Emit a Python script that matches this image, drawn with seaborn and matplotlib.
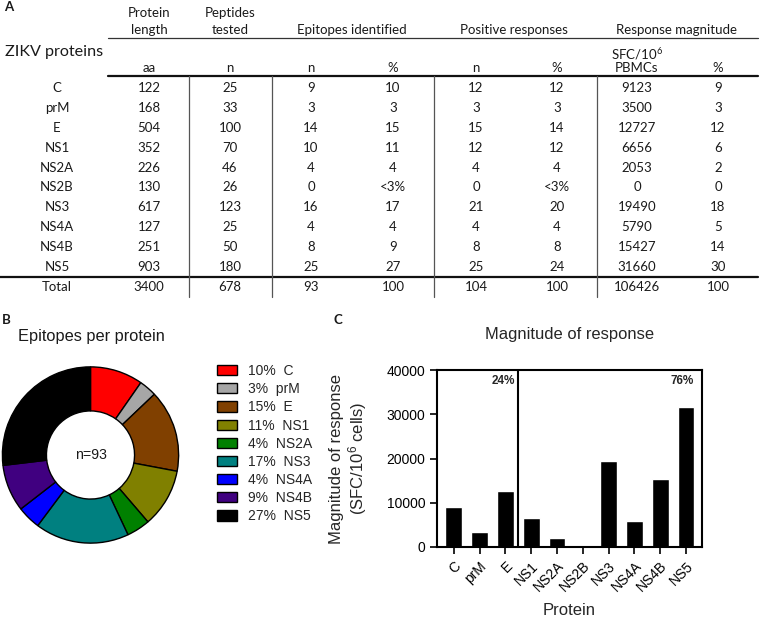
import matplotlib
matplotlib.use("Agg")
import matplotlib.pyplot as plt
import seaborn as sns
import pandas as pd

# ---------------- data ----------------
proteins = ["C", "prM", "E", "NS1", "NS2A", "NS2B", "NS3", "NS4A", "NS4B", "NS5"]
length_aa = [122, 168, 504, 352, 226, 130, 617, 127, 251, 903]
peptides_n = [25, 33, 100, 70, 46, 26, 123, 25, 50, 180]
epitopes_n = [9, 3, 14, 10, 4, 0, 16, 4, 8, 25]
epitopes_pct = ["10", "3", "15", "11", "4", "<3%", "17", "4", "9", "27"]
responses_n = [12, 3, 15, 12, 4, 0, 21, 4, 8, 25]
responses_pct = ["12", "3", "14", "12", "4", "<3%", "20", "4", "8", "24"]
magnitude = [9123, 3500, 12727, 6656, 2053, 0, 19490, 5790, 15427, 31660]
magnitude_pct = [9, 3, 12, 6, 2, 0, 18, 5, 14, 30]
pie_colors = ["#FF0000", "#A6A6A6", "#804000", "#808000", "#008000",
              "#00BFFF", "#008080", "#0000FF", "#400080", "#000000"]
pie_colors[5] = "#FFFFFF"  # NS2B has no epitopes (not drawn)

# ---------------- style ----------------
sns.set_style("white")
plt.rcParams['font.family'] = ['Liberation Sans', 'DejaVu Sans']
plt.rcParams['mathtext.default'] = 'regular'
TF = ['Lato', 'DejaVu Sans']
TC = '#1a1a1a'

W, H = 760, 619
fig = plt.figure(figsize=(7.6, 6.19), dpi=100)
def fx(x): return x / W
def fy(y): return 1 - y / H

# ---------------- panel A: table ----------------
ax_t = fig.add_axes([0, 0, 1, 1])
ax_t.set_xlim(0, W); ax_t.set_ylim(H, 0); ax_t.axis('off')

fs = 9.5
cols_x = [57, 149, 230, 311, 393, 476, 557, 637, 718]
def t(x, y, s, **kw):
    kw.setdefault('fontsize', fs)
    kw.setdefault('ha', 'center')
    ax_t.text(x, y, s, va='center', family=TF, color=TC, **kw)

t(4, 7, 'A', fontweight='bold', ha='left')
t(149, 13, 'Protein'); t(149, 30, 'length')
t(230, 13, 'Peptides'); t(230, 30, 'tested')
t(352, 30, 'Epitopes identified')
t(514, 30, 'Positive responses')
t(677, 30, 'Response magnitude')
t(5, 52, 'ZIKV proteins', ha='left', fontsize=11.6)
t(637, 54, 'SFC/10$^6$')
for x, s in zip(cols_x[1:], ['aa', 'n', 'n', '%', 'n', '%', 'PBMCs', '%']):
    t(x, 68, s)

y0, dy = 87.7, 19.95
for i, p in enumerate(proteins):
    y = y0 + i * dy
    row = [p, length_aa[i], peptides_n[i], epitopes_n[i], epitopes_pct[i],
           responses_n[i], responses_pct[i], magnitude[i], magnitude_pct[i]]
    for x, v in zip(cols_x, row):
        t(x, y, str(v))
totals = ['Total', sum(length_aa), sum(peptides_n), sum(epitopes_n), 100,
          sum(responses_n), 100, sum(magnitude), 100]
for x, v in zip(cols_x, totals):
    t(x, 287.3, str(v))

ax_t.plot([108, 758], [38, 38], color='#333333', lw=0.9)
ax_t.plot([108, 758], [76, 76], color='#111111', lw=1.6)
ax_t.plot([0, 758], [277, 277], color='#111111', lw=1.6)
for vx in [189, 272, 434, 597]:
    ax_t.plot([vx, vx], [76, 297], color='#555555', lw=0.9)

t(2, 320, 'B', fontweight='bold', ha='left')
t(333, 320, 'C', fontweight='bold', ha='left')

# ---------------- panel B: donut ----------------
ax_t.text(18, 336, 'Epitopes per protein', fontsize=11.8, va='center', ha='left', color=TC)
keep = [i for i, v in enumerate(epitopes_n) if v > 0]
vals = [epitopes_n[i] for i in keep]
cols = [pie_colors[i] for i in keep]
labels = [f"{epitopes_pct[i]}%  {proteins[i]}" for i in keep]

ax_p = fig.add_axes([fx(1.5), fy(455 + 89), 178 / W, 178 / H])
wedges, _ = ax_p.pie(vals, colors=cols, startangle=90, counterclock=False, radius=1,
                     wedgeprops=dict(width=0.5, edgecolor='black', linewidth=1.0))
ax_p.set_xlim(-1.01, 1.01); ax_p.set_ylim(-1.01, 1.01)
ax_p.text(0, 0, f"n={sum(epitopes_n)}", ha='center', va='center', fontsize=10.2, color=TC)
ax_p.legend(wedges, labels, loc='upper left', bbox_to_anchor=(fx(217), fy(364)),
            bbox_transform=fig.transFigure, frameon=False, fontsize=10,
            handlelength=1.45, handleheight=0.75, handletextpad=0.75,
            labelspacing=0.3, borderpad=0, borderaxespad=0)

# ---------------- panel C: bars ----------------
df = pd.DataFrame({'Protein': proteins, 'Magnitude': magnitude})
ax_b = fig.add_axes([fx(437), fy(547), 265 / W, 177 / H])
sns.barplot(data=df, x='Protein', y='Magnitude', color='black', saturation=1,
            width=0.65, ax=ax_b)
ax_b.set_ylim(0, 40000)
ax_b.set_yticks(range(0, 40001, 10000))
ax_b.set_xlim(-0.65, 9.62)
for s in ax_b.spines.values():
    s.set_visible(True); s.set_linewidth(1.5); s.set_color('black')
ax_b.axvline(2.5, color='black', lw=1.5)
tot = sum(magnitude)
p1 = round(100 * sum(magnitude[:3]) / tot)
p2 = round(100 * sum(magnitude[3:]) / tot)
ax_b.text(2.37, 37500, f"{p1}%", ha='right', va='center', fontweight='bold', fontsize=8.5)
ax_b.text(9.31, 37500, f"{p2}%", ha='right', va='center', fontweight='bold', fontsize=8.5)
ax_b.tick_params(axis='both', labelsize=10, length=5, width=1.2, direction='out',
                 bottom=True, left=True, colors='black')
plt.setp(ax_b.get_xticklabels(), rotation=45, ha='right', rotation_mode='anchor')
ax_b.set_ylabel('Magnitude of response\n(SFC/10$^6$ cells)', fontsize=12, linespacing=1.1)
ax_b.yaxis.set_label_coords((369 - 437) / 265, 0.5)
ax_b.set_xlabel('Protein', fontsize=12)
ax_b.xaxis.set_label_coords(0.5, (547 - 603) / 177)
ax_b.text(0.502, (547 - 335) / 177, 'Magnitude of response', transform=ax_b.transAxes,
          ha='center', va='center', fontsize=11.9)

fig.savefig('out.png', dpi=100)
